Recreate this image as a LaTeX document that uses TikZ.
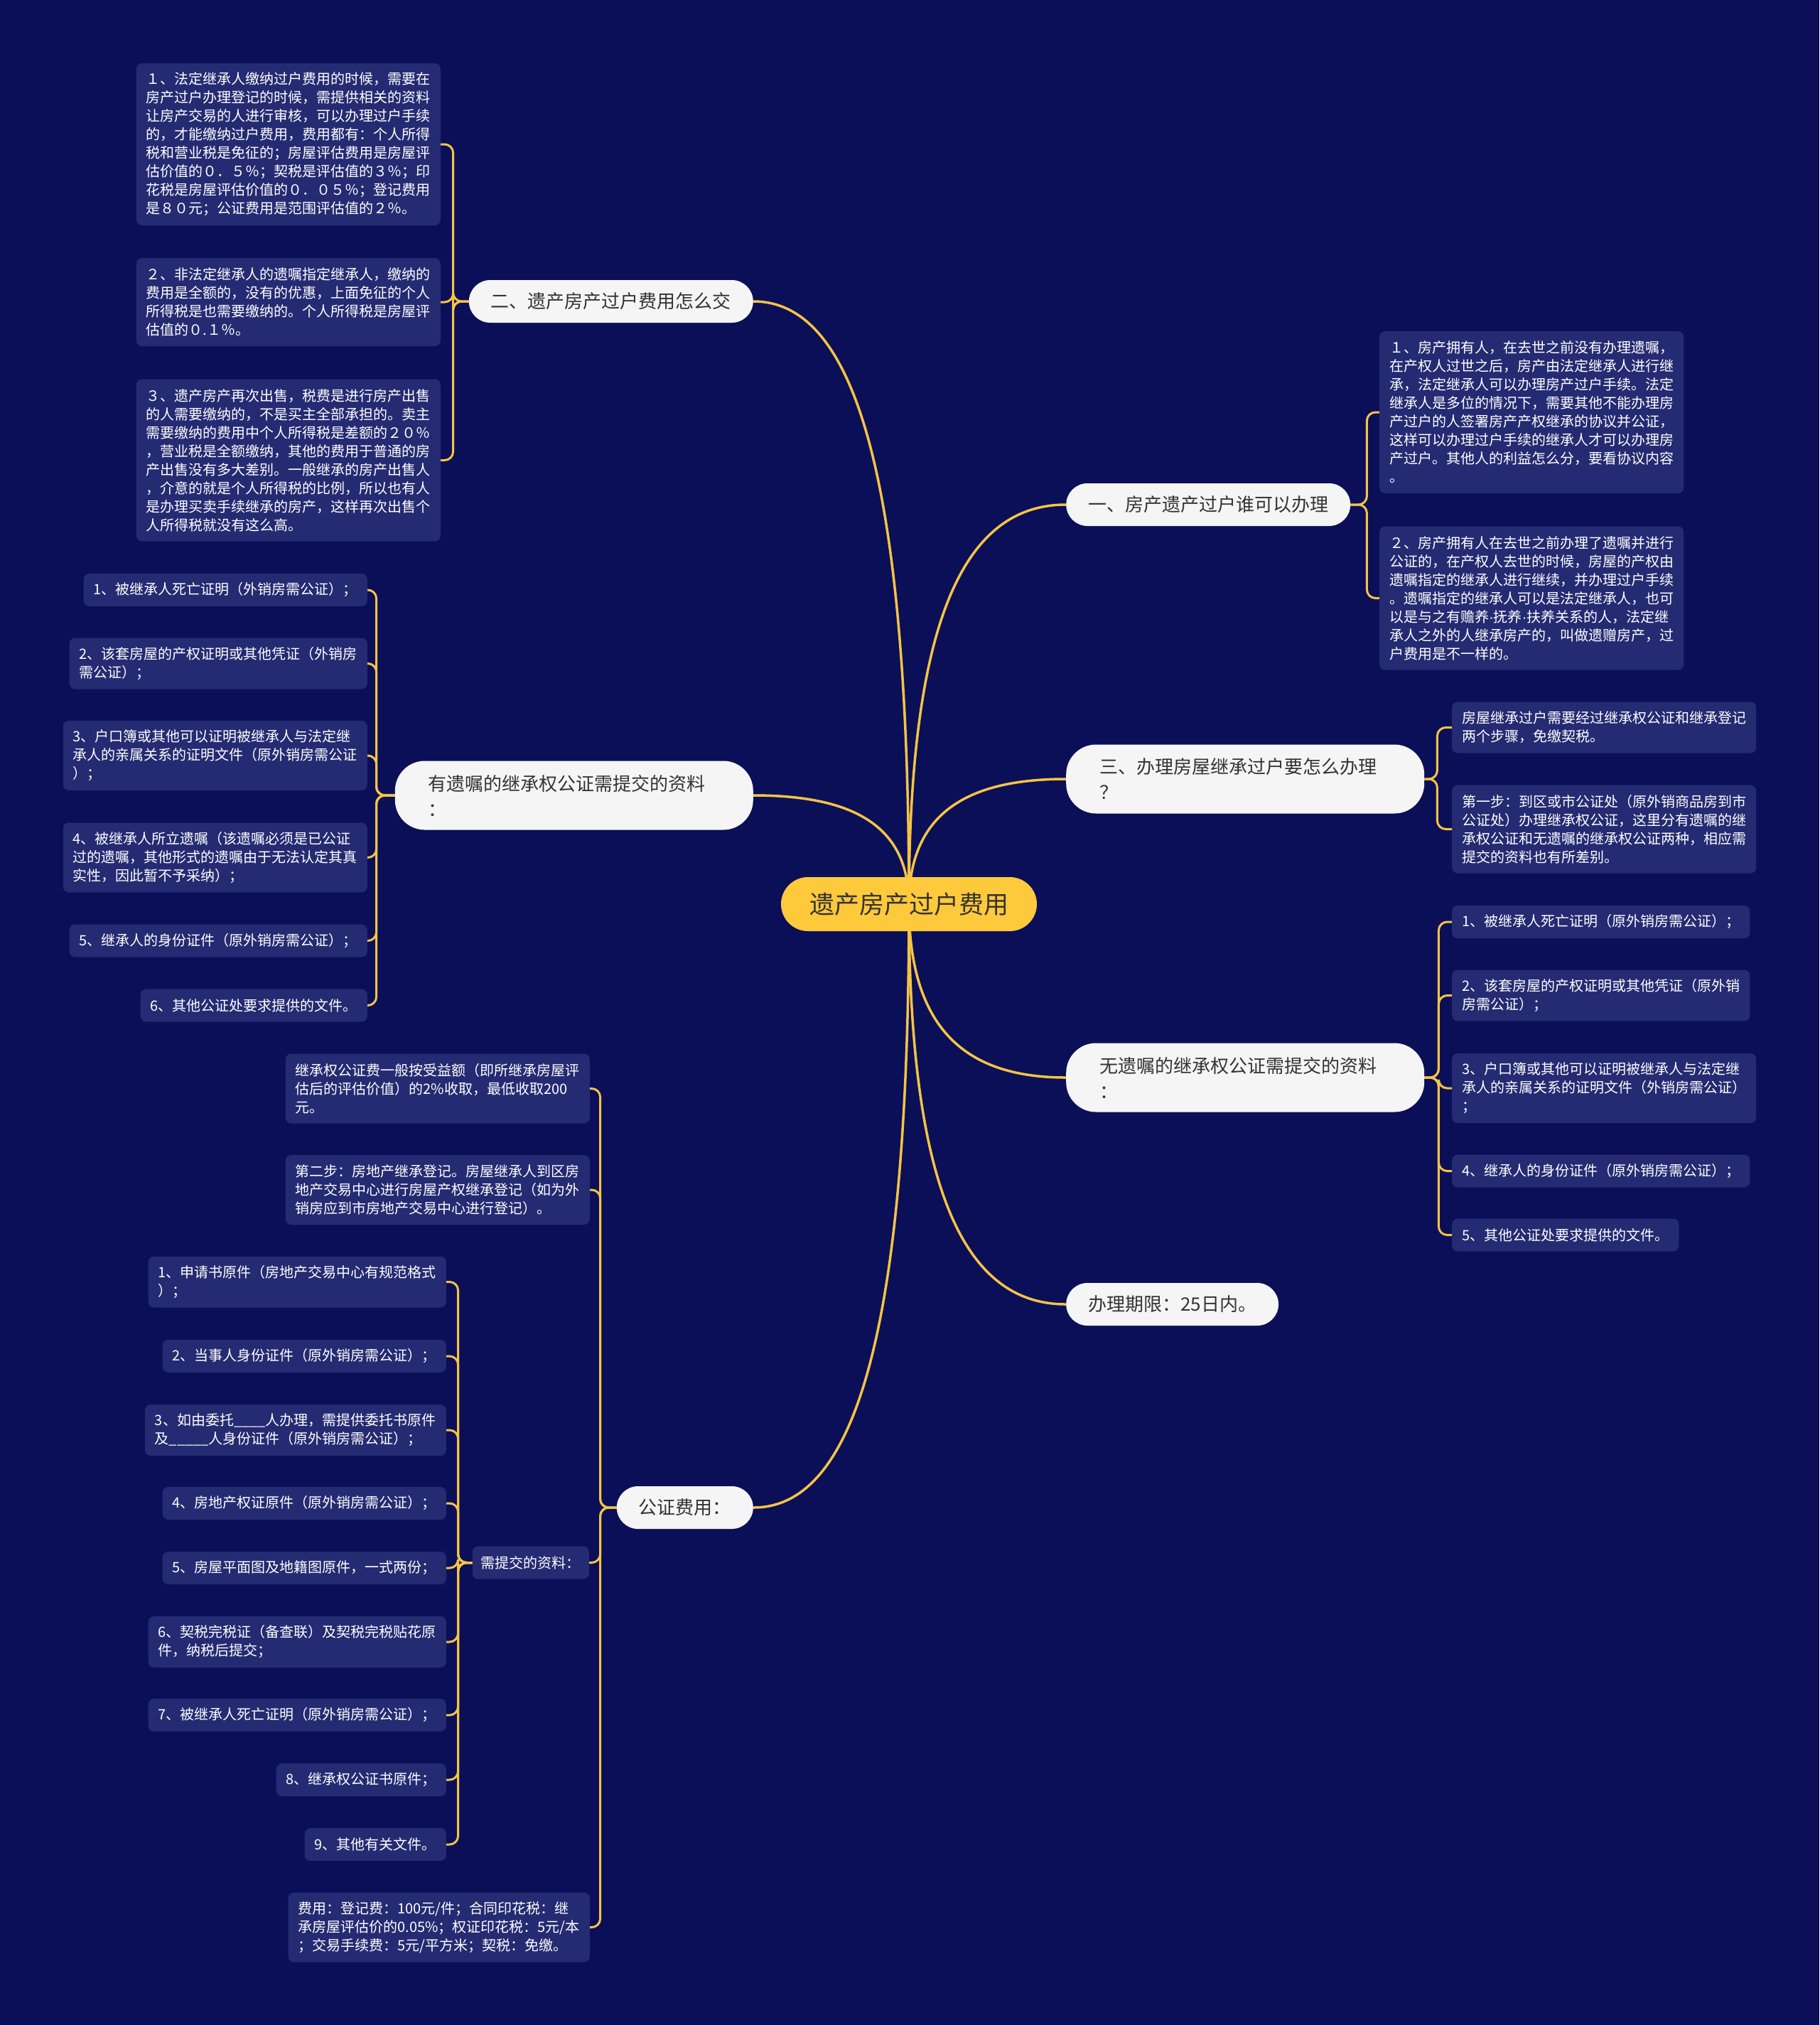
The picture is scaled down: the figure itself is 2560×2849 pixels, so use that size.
\documentclass[tikz,border=0pt]{standalone}
\usepackage{fontspec}
\setmainfont{Noto Sans CJK SC}
\newfontfamily\narrowf{Liberation Sans}
\definecolor{bgc}{HTML}{0B0F58}
\definecolor{leafc}{HTML}{252B72}
\definecolor{linec}{HTML}{F5C444}
\definecolor{pillc}{HTML}{F5F5F5}
\definecolor{pilltext}{HTML}{333333}
\definecolor{rootc}{HTML}{FFC93C}
\pgfdeclarelayer{bgl}
\pgfdeclarelayer{edgel}
\pgfsetlayers{bgl,edgel,main}
\begin{document}
\begin{tikzpicture}[x=1pt,y=-1pt,
  mainline/.style={draw=linec, line width=3.5pt},
  conn/.style={draw=linec, line width=3pt, rounded corners=12pt},
  leaf/.style={fill=leafc, rounded corners=8pt, text=white, font=\fontsize{20}{26}\selectfont, align=left, inner xsep=14pt, inner ysep=0pt},
  l1/.style={minimum height=46pt},
  l2/.style={minimum height=72pt},
  l3/.style={minimum height=98pt},
  l4/.style={minimum height=124pt},
  l7/.style={minimum height=202pt},
  l8/.style={minimum height=228pt},
  pill/.style={fill=pillc, text=pilltext, font=\fontsize{26}{36}\selectfont, rounded corners=30pt, inner xsep=31pt, inner ysep=0pt, minimum height=60pt},
  pilltwo/.style={pill, text width=410pt, align=left, inner xsep=47pt, minimum height=97pt, rounded corners=42pt},
  root/.style={fill=rootc, text=pilltext, font=\fontsize{35}{40}\selectfont, rounded corners=38pt, minimum height=76pt, inner xsep=40pt, inner ysep=0pt}
]
\useasboundingbox (0,0) rectangle (2560,2849);
\begin{pgfonlayer}{bgl}
\fill[bgc] (0,0) rectangle (2560,2849);
\end{pgfonlayer}

% root
\node[root] (C) at (1279,1272) {遗产房产过户费用};

% main branches
\node[pill, anchor=east] (P2) at (1060,424) {二、遗产房产过户费用怎么交};
\node[pill, anchor=west] (P1) at (1500,710) {一、房产遗产过户谁可以办理};
\node[pilltwo, anchor=west] (P3) at (1500,1096) {三、办理房屋继承过户要怎么办理\\？};
\node[pilltwo, anchor=east] (PB) at (1060,1119) {有遗嘱的继承权公证需提交的资料\\：};
\node[pilltwo, anchor=west] (PE) at (1500,1516) {无遗嘱的继承权公证需提交的资料\\：};
\node[pill, anchor=west] (PF) at (1500,1835) {办理期限：25日内。};
\node[pill, anchor=east] (PG) at (1060,2121) {公证费用：};

% group A
\node[leaf, l8, anchor=east] (A1) at (620,203) {１、法定继承人缴纳过户费用的时候，需要在\\房产过户办理登记的时候，需提供相关的资料\\让房产交易的人进行审核，可以办理过户手续\\的，才能缴纳过户费用，费用都有：个人所得\\税和营业税是免征的；房屋评估费用是房屋评\\估价值的０．５％；契税是评估值的３％；印\\花税是房屋评估价值的０．０５％；登记费用\\是８０元；公证费用是范围评估值的２％。};
\node[leaf, l4, anchor=east] (A2) at (620,425) {２、非法定继承人的遗嘱指定继承人，缴纳的\\费用是全额的，没有的优惠，上面免征的个人\\所得税是也需要缴纳的。个人所得税是房屋评\\估值的０.１％。};
\node[leaf, l8, anchor=east] (A3) at (620,647.5) {３、遗产房产再次出售，税费是进行房产出售\\的人需要缴纳的，不是买主全部承担的。卖主\\需要缴纳的费用中个人所得税是差额的２０％\\，营业税是全额缴纳，其他的费用于普通的房\\产出售没有多大差别。一般继承的房产出售人\\，介意的就是个人所得税的比例，所以也有人\\是办理买卖手续继承的房产，这样再次出售个\\人所得税就没有这么高。};

% group B
\node[leaf, l1, anchor=east] (B1) at (517,830) {1、被继承人死亡证明（外销房需公证）；};
\node[leaf, l2, anchor=east] (B2) at (517,933.5) {2、该套房屋的产权证明或其他凭证（外销房\\需公证）；};
\node[leaf, l3, anchor=east] (B3) at (517,1063) {3、户口簿或其他可以证明被继承人与法定继\\承人的亲属关系的证明文件（原外销房需公证\\）；};
\node[leaf, l3, anchor=east] (B4) at (517,1206.5) {4、被继承人所立遗嘱（该遗嘱必须是已公证\\过的遗嘱，其他形式的遗嘱由于无法认定其真\\实性，因此暂不予采纳）；};
\node[leaf, l1, anchor=east] (B5) at (517,1323.5) {5、继承人的身份证件（原外销房需公证）；};
\node[leaf, l1, anchor=east] (B6) at (517,1414.5) {6、其他公证处要求提供的文件。};

% group C
\node[leaf, l8, anchor=west] (C1) at (1941,580) {１、房产拥有人，在去世之前没有办理遗嘱，\\在产权人过世之后，房产由法定继承人进行继\\承，法定继承人可以办理房产过户手续。法定\\继承人是多位的情况下，需要其他不能办理房\\产过户的人签署房产产权继承的协议并公证，\\这样可以办理过户手续的继承人才可以办理房\\产过户。其他人的利益怎么分，要看协议内容\\。};
\node[leaf, l7, anchor=west] (C2) at (1941,841.5) {２、房产拥有人在去世之前办理了遗嘱并进行\\公证的，在产权人去世的时候，房屋的产权由\\遗嘱指定的继承人进行继续，并办理过户手续\\。遗嘱指定的继承人可以是法定继承人，也可\\以是与之有赡养{\narrowf ·}抚养{\narrowf ·}扶养关系的人，法定继\\承人之外的人继承房产的，叫做遗赠房产，过\\户费用是不一样的。};

% group D
\node[leaf, l2, anchor=west] (D1) at (2043,1023.5) {房屋继承过户需要经过继承权公证和继承登记\\两个步骤，免缴契税。};
\node[leaf, l4, anchor=west] (D2) at (2043,1166.5) {第一步：到区或市公证处（原外销商品房到市\\公证处）办理继承权公证，这里分有遗嘱的继\\承权公证和无遗嘱的继承权公证两种，相应需\\提交的资料也有所差别。};

% group E
\node[leaf, l1, anchor=west] (E1) at (2043,1297) {1、被继承人死亡证明（原外销房需公证）；};
\node[leaf, l2, anchor=west] (E2) at (2043,1400.5) {2、该套房屋的产权证明或其他凭证（原外销\\房需公证）；};
\node[leaf, l3, anchor=west] (E3) at (2043,1531) {3、户口簿或其他可以证明被继承人与法定继\\承人的亲属关系的证明文件（外销房需公证）\\；};
\node[leaf, l1, anchor=west] (E4) at (2043,1647.5) {4、继承人的身份证件（原外销房需公证）；};
\node[leaf, l1, anchor=west] (E5) at (2043,1737.5) {5、其他公证处要求提供的文件。};

% group G
\node[leaf, l3, anchor=east] (G1) at (830,1531.5) {继承权公证费一般按受益额（即所继承房屋评\\估后的评估价值）的2\%收取，最低收取200\\元。};
\node[leaf, l3, anchor=east] (G2) at (830,1674) {第二步：房地产继承登记。房屋继承人到区房\\地产交易中心进行房屋产权继承登记（如为外\\销房应到市房地产交易中心进行登记）。};
\node[leaf, l1, anchor=east, inner xsep=12pt] (G3) at (829,2198.5) {需提交的资料：};
\node[leaf, l3, anchor=east] (G4) at (830,2711.5) {费用：登记费：100元/件；合同印花税：继\\承房屋评估价的0.05\%；权证印花税：5元/本\\；交易手续费：5元/平方米；契税：免缴。};

% group H
\node[leaf, l2, anchor=east] (H1) at (628,1803.5) {1、申请书原件（房地产交易中心有规范格式\\）；};
\node[leaf, l1, anchor=east] (H2) at (628,1908) {2、当事人身份证件（原外销房需公证）；};
\node[leaf, l2, anchor=east] (H3) at (628,2012) {3、如由委托\_\_\_\_人办理，需提供委托书原件\\及\_\_\_\_\_人身份证件（原外销房需公证）；};
\node[leaf, l1, anchor=east] (H4) at (628,2115) {4、房地产权证原件（原外销房需公证）；};
\node[leaf, l1, anchor=east] (H5) at (628,2206) {5、房屋平面图及地籍图原件，一式两份；};
\node[leaf, l2, anchor=east] (H6) at (628,2310) {6、契税完税证（备查联）及契税完税贴花原\\件，纳税后提交；};
\node[leaf, l1, anchor=east] (H7) at (628,2413) {7、被继承人死亡证明（原外销房需公证）；};
\node[leaf, l1, anchor=east] (H8) at (628,2504) {8、继承权公证书原件；};
\node[leaf, l1, anchor=east] (H9) at (628,2595) {9、其他有关文件。};

\begin{pgfonlayer}{edgel}
\draw[mainline] (C.center) .. controls +(0,-619) and +(138,0) .. (P2.east);
\draw[mainline] (C.center) .. controls +(0,-112) and +(138,0) .. (PB.east);
\draw[mainline] (C.center) .. controls +(0,620) and +(138,0) .. (PG.east);
\draw[mainline] (C.center) .. controls +(0,-410) and +(-139,0) .. (P1.west);
\draw[mainline] (C.center) .. controls +(0,-128) and +(-139,0) .. (P3.west);
\draw[mainline] (C.center) .. controls +(0,178) and +(-139,0) .. (PE.west);
\draw[mainline] (C.center) .. controls +(0,411) and +(-139,0) .. (PF.west);
\foreach \i in {1,2,3} \draw[conn] (P2.west) -- ++(-22,0) |- (A\i.east);
\foreach \i in {1,...,6} \draw[conn] (PB.west) -- ++(-26,0) |- (B\i.east);
\foreach \i in {1,2} \draw[conn] (P1.east) -- ++(23,0) |- (C\i.west);
\foreach \i in {1,2} \draw[conn] (P3.east) -- ++(18,0) |- (D\i.west);
\foreach \i in {1,...,5} \draw[conn] (PE.east) -- ++(20,0) |- (E\i.west);
\foreach \i in {1,...,4} \draw[conn] (PG.west) -- ++(-23,0) |- (G\i.east);
\foreach \i in {1,...,9} \draw[conn] (G3.west) -- ++(-20,0) |- (H\i.east);
\end{pgfonlayer}
\end{tikzpicture}
\end{document}
